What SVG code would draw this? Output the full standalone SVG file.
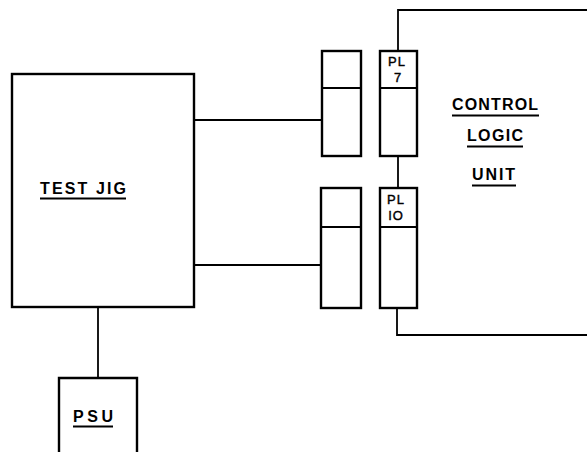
<svg xmlns="http://www.w3.org/2000/svg" width="587" height="452" viewBox="0 0 587 452">
<style>
.box{fill:none;stroke:#000;stroke-width:2.4}
.ln{fill:none;stroke:#000;stroke-width:1.8}
.lbl{font-family:"Liberation Sans",Arial,sans-serif;font-weight:bold;font-size:16px;fill:#000}
.pl{font-family:"Liberation Sans",Arial,sans-serif;font-size:13px;fill:#000;text-anchor:middle;stroke:#000;stroke-width:0.4;letter-spacing:1px}
.ul{stroke:#000;stroke-width:1.8}
</style>
<rect width="587" height="452" fill="#fff"/>
<g id="connectors">
<path class="ln" d="M194,120 H322"/>
<path class="ln" d="M194,265 H321"/>
<path class="ln" d="M98,307 V378"/>
<path class="ln" d="M398,156 V188"/>
</g>
<g id="test-jig">
<rect class="box" x="12" y="74" width="182" height="233"/>
<text class="lbl" x="40" y="194" textLength="86" lengthAdjust="spacing">TEST  JIG</text>
<line class="ul" x1="40" y1="198.5" x2="126" y2="198.5"/>
</g>
<g id="psu">
<path class="box" d="M59,452 V378 H137 V452"/>
<text class="lbl" x="73" y="422" textLength="40" lengthAdjust="spacing">PSU</text>
<line class="ul" x1="73" y1="426.5" x2="113" y2="426.5"/>
</g>
<g id="socket-upper">
<rect class="box" x="322" y="51" width="39" height="105"/>
<line class="ln" x1="322" y1="88" x2="361" y2="88"/>
</g>
<g id="socket-lower">
<rect class="box" x="321" y="188" width="40" height="120"/>
<line class="ln" x1="321" y1="227" x2="361" y2="227"/>
</g>
<g id="pl7">
<rect class="box" x="380" y="51" width="37" height="105"/>
<line class="ln" x1="380" y1="88" x2="417" y2="88"/>
<text class="pl" x="397" y="66">PL</text>
<text class="pl" x="398" y="82">7</text>
</g>
<g id="pl10">
<rect class="box" x="380" y="188" width="37" height="120"/>
<line class="ln" x1="380" y1="227" x2="417" y2="227"/>
<text class="pl" x="396" y="204">PL</text>
<text class="pl" x="396" y="220">IO</text>
</g>
<g id="control-logic-unit">
<path class="ln" d="M398,51 V10 H587"/>
<path class="ln" d="M397,308 V335 H587"/>
<text class="lbl" x="452" y="110" textLength="86" lengthAdjust="spacing">CONTROL</text>
<line class="ul" x1="452" y1="115.5" x2="539" y2="115.5"/>
<text class="lbl" x="467" y="141" textLength="56" lengthAdjust="spacing">LOGIC</text>
<line class="ul" x1="467" y1="146.5" x2="523" y2="146.5"/>
<text class="lbl" x="472" y="180" textLength="43" lengthAdjust="spacing">UNIT</text>
<line class="ul" x1="472" y1="185.5" x2="516" y2="185.5"/>
</g>
</svg>
